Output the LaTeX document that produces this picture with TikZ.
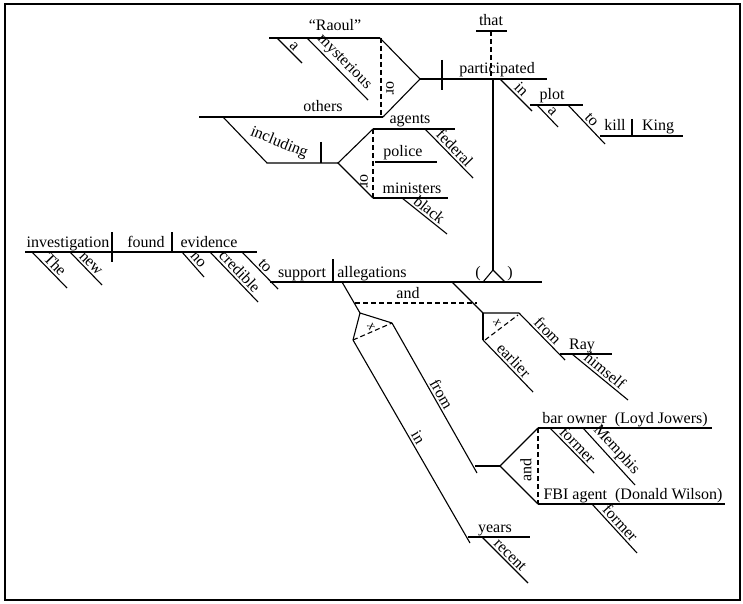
\documentclass[tikz,border=0pt]{standalone}
\usepackage{fontspec}
\setmainfont{Liberation Serif}
\begin{document}
\begin{tikzpicture}[x=1pt,y=-1pt,line width=1.1pt,
  font=\fontsize{16}{19}\selectfont,
  word/.style={anchor=base,inner sep=0pt},
  mod/.style={midway,above,sloped,inner sep=2pt},
  dsh/.style={dash pattern=on 5pt off 3pt}]
\useasboundingbox (0,0) rectangle (743,604);
\draw[line width=2.5pt] (5,4) rectangle (740,600);

% subject: "Raoul" or others
\draw (269,38)--(380,38);
\node[word] at (335,31) {``Raoul''};
\draw (277,38)--(302,63) node[mod] {a};
\draw (307,38)--(368,100) node[mod] {mysterious};
\draw (199,117)--(383,117);
\node[word] at (323,112) {others};
\draw[dsh] (381,38)--(381,117);
\node[rotate=-90] at (390,88) {or};
\draw (380,38)--(420,79)--(383,117);

% including agents, police, ministers
\draw (223,117)--(267,163)--(338,163);
\node[rotate=-22] at (279,143) {including};
\draw (321,142)--(321,163);
\draw (373,129)--(338,163)--(373,198);
\draw[dsh] (373,129)--(373,198);
\node[rotate=-90] at (364,181) {or};
\draw (373,129)--(455,129);
\node[word] at (410,124) {agents};
\draw (425,129)--(473,178) node[mod] {federal};
\draw (375,162)--(437,162);
\node[word] at (403,157) {police};
\draw (373,198)--(448,198);
\node[word] at (412,193) {ministers};
\draw (402,198)--(447,234) node[mod] {black};

% that ... participated in a plot to kill King
\draw (476,31)--(507,31);
\node[word] at (491,26) {that};
\draw[dsh] (491,31)--(491,79);
\draw (420,79)--(547,79);
\draw (442,60)--(442,90);
\node[word] at (497,74) {participated};
\draw (500,79)--(532,111) node[mod] {in};
\draw (530,105)--(583,105);
\node[word] at (552,100) {plot};
\draw (537,105)--(558,127) node[mod] {a};
\draw (568,105)--(605,144) node[mod] {to};
\draw (600,136)--(683,136);
\draw (632,119)--(632,136);
\node[word] at (615,131) {kill};
\node[word] at (658,131) {King};

% stem to allegations
\draw (493,79)--(493,270);
\draw (483,282)--(493,270)--(505,282);
\node at (478,274) {(};
\node at (510,274) {)};

% main clause
\draw (25,252)--(257,252);
\draw (112,232)--(112,262);
\draw (172,232)--(172,252);
\node[word] at (68,247) {investigation};
\node[word] at (146,247) {found};
\node[word] at (209,247) {evidence};
\draw (32,252)--(67,288) node[mod] {The};
\draw (70,252)--(102,285) node[mod] {new};
\draw (182,252)--(204,277) node[mod] {no};
\draw (210,252)--(258,302) node[mod] {credible};
\draw (242,252)--(278,289) node[mod] {to};
\draw (270,282)--(542,282);
\draw (333,259)--(333,282);
\node[word] at (302,277) {support};
\node[word] at (372,277) {allegations};

% and
\draw[dsh] (355,303)--(477,303);
\node[word] at (408,298) {and};

% left branch: in recent years, from ...
\draw (342,282)--(360,313);
\draw (392,323)--(360,313)--(353,340);
\draw[dsh] (353,340)--(392,323);
\node[rotate=-60,inner sep=0pt,font=\fontsize{13}{15}\selectfont] at (371,327) {x};
\draw (353,340)--(470,543) node[mod] {in};
\draw (468,537)--(530,537);
\node[word] at (495,532) {years};
\draw (482,537)--(528,583) node[mod] {recent};
\draw (392,323)--(477,473) node[mod] {from};
\draw (475,466)--(500,466);
\draw (538,428)--(500,466)--(538,504);
\draw[dsh] (538,428)--(538,504);
\node[rotate=90] at (526,470) {and};
\draw (538,428)--(712,428);
\node[word] at (625,423) {bar owner\ \ (Loyd Jowers)};
\draw (550,428)--(594,473) node[mod] {former};
\draw (583,428)--(635,485) node[mod] {Memphis};
\draw (538,504)--(725,504);
\node[word] at (633,499) {FBI agent\ \ (Donald Wilson)};
\draw (592,504)--(637,553) node[mod] {former};

% right branch: earlier, from Ray himself
\draw (452,282)--(483,313)--(519,313);
\draw (483,313)--(483,340);
\draw[dsh] (485,340)--(518,315);
\node[rotate=-60,inner sep=0pt,font=\fontsize{13}{15}\selectfont] at (497,323) {x};
\draw (483,340)--(533,392) node[mod] {earlier};
\draw (519,313)--(565,360) node[mod] {from};
\draw (560,354)--(612,354);
\node[word] at (582,349) {Ray};
\draw (572,354)--(628,400) node[mod] {himself};
\end{tikzpicture}
\end{document}
